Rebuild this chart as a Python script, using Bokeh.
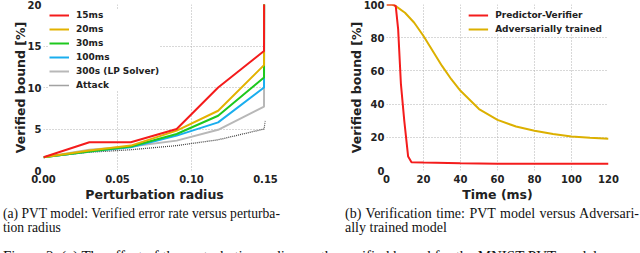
from bokeh.plotting import figure
from bokeh.layouts import column, row
from bokeh.models import FixedTicker, Legend, LegendItem, Div, GlobalInlineStyleSheet
from bokeh.embed import file_html
from bokeh.resources import INLINE

# ---- data (panel a) ----
radius = [0.0, 0.031, 0.059, 0.09, 0.118, 0.149, 0.15]
v15 = [1.6, 3.4, 3.4, 5.0, 10.0, 14.4, 100]
v20 = [1.6, 2.4, 3.0, 4.8, 7.2, 12.7, 100]
v30 = [1.6, 2.3, 2.9, 4.4, 6.6, 11.2, 100]
v100 = [1.6, 2.3, 2.8, 4.2, 5.8, 10.0, 100]
v300 = [1.6, 2.5, 2.9, 3.6, 4.9, 7.7, 100]
attack = [1.6, 2.2, 2.5, 3.0, 3.7, 5.0, 6.0]
a_xticks = [0.0, 0.05, 0.10, 0.15]
a_xlabels = ["0.00", "0.05", "0.10", "0.15"]
a_yticks = [0, 5, 10, 15, 20]

# ---- data (panel b) ----
time_pv = [0, 4, 5, 6.3, 7.8, 9.6, 11.7, 13.5, 20, 40, 60, 80, 100, 120]
pv = [100, 100, 99, 85, 52, 30, 8.4, 5.0, 4.8, 4.3, 4.1, 4.0, 4.0, 4.0]
time_adv = [0, 3, 5, 10, 15, 20, 25, 30, 35, 40, 50, 60, 70, 80, 90, 100, 110, 120]
adv = [100, 100, 99, 95, 89, 81, 72, 63, 55, 48, 37, 30.5, 26.5, 24, 22, 20.5, 19.8, 19.2]
b_xticks = [0, 20, 40, 60, 80, 100, 120]
b_yticks = [0, 20, 40, 60, 80, 100]

FONT = "DejaVu Sans"


def style(p):
    p.outline_line_color = None
    for ax in (p.xaxis, p.yaxis):
        ax.axis_line_color = None
        ax.major_tick_line_color = None
        ax.minor_tick_line_color = None
        ax.major_tick_out = 0
        ax.major_tick_in = 0
        ax.major_label_text_font = FONT
        ax.major_label_text_font_style = "bold"
        ax.major_label_text_font_size = "10px"
        ax.major_label_text_color = "#222222"
        ax.axis_label_text_font = FONT
        ax.axis_label_text_font_style = "bold"
        ax.axis_label_text_font_size = "12.5px"
        ax.axis_label_text_color = "#222222"
    p.xaxis.major_label_standoff = 4
    p.xaxis.axis_label_standoff = 1
    p.yaxis.major_label_standoff = 2
    p.yaxis.axis_label_standoff = -3
    for g in (p.xgrid, p.ygrid):
        g.grid_line_color = "#b0b0b0"
        g.grid_line_dash = "1 2"
        g.grid_line_width = 1


def style_legend(lg):
    lg.border_line_color = None
    lg.background_fill_color = "white"
    lg.background_fill_alpha = 1.0
    lg.label_text_font = FONT
    lg.label_text_font_style = "bold"
    lg.label_text_font_size = "9px"
    lg.label_text_color = "#222222"
    lg.glyph_width = 20
    lg.glyph_height = 10
    lg.label_height = 10
    lg.spacing = 4
    lg.padding = 2
    lg.label_standoff = 7
    lg.margin = 6


# ---- panel a ----
p1 = figure(frame_width=222, frame_height=166, x_range=(0, 0.15), y_range=(0, 20),
            min_border_left=43, min_border_right=35, min_border_top=4, min_border_bottom=30,
            output_backend="svg", toolbar_location=None)
style(p1)
p1.xaxis.ticker = FixedTicker(ticks=a_xticks)
p1.xaxis.major_label_overrides = {t: l for t, l in zip(a_xticks, a_xlabels)}
p1.yaxis.ticker = FixedTicker(ticks=a_yticks)
p1.xaxis.axis_label = "Perturbation radius"
p1.yaxis.axis_label = "Verified bound [%]"

r_att = p1.line(radius, attack, line_color="#444444", line_width=1.3, line_dash="1 1")
r300 = p1.line(radius, v300, line_color="#b8b8b8", line_width=2)
r100 = p1.line(radius, v100, line_color="#1aaeee", line_width=2)
r30 = p1.line(radius, v30, line_color="#1ec81e", line_width=2)
r20 = p1.line(radius, v20, line_color="#e3b200", line_width=2)
r15 = p1.line(radius, v15, line_color="#f41c1c", line_width=2)

leg1 = Legend(items=[LegendItem(label="15ms", renderers=[r15]),
                     LegendItem(label="20ms", renderers=[r20]),
                     LegendItem(label="30ms", renderers=[r30]),
                     LegendItem(label="100ms", renderers=[r100]),
                     LegendItem(label="300s (LP Solver)", renderers=[r300]),
                     LegendItem(label="Attack", renderers=[r_att])],
              location="top_left")
style_legend(leg1)
p1.add_layout(leg1)

# ---- panel b ----
p2 = figure(frame_width=222, frame_height=166, x_range=(0, 120), y_range=(0, 100),
            min_border_left=86, min_border_right=32, min_border_top=4, min_border_bottom=30,
            output_backend="svg", toolbar_location=None)
style(p2)
p2.xaxis.ticker = FixedTicker(ticks=b_xticks)
p2.yaxis.ticker = FixedTicker(ticks=b_yticks)
p2.xaxis.axis_label = "Time (ms)"
p2.yaxis.axis_label = "Verified bound [%]"

ra = p2.line(time_adv, adv, line_color="#dcb000", line_width=2)
rp = p2.line(time_pv, pv, line_color="#f41c1c", line_width=2)
leg2 = Legend(items=[LegendItem(label="Predictor-Verifier", renderers=[rp]),
                     LegendItem(label="Adversarially trained", renderers=[ra])],
              location="top_right")
style_legend(leg2)
p2.add_layout(leg2)

cap_style = {"font-family": "Liberation Serif", "font-size": "13.6px",
             "line-height": "14px", "color": "#111111", "white-space": "nowrap"}
div_a = Div(text="(a) PVT model: Verified error rate versus perturba-<br>tion radius",
            width=340, height=42, margin=(0, 0, 0, 0),
            styles=dict(cap_style, **{"padding-left": "3px", "padding-top": "3px"}))
div_b = Div(text='<span style="word-spacing:1px">(b) Verification time: PVT model versus Adversari-</span><br>ally trained model',
            width=300, height=42, margin=(0, 0, 0, 0),
            styles=dict(cap_style, **{"padding-left": "5px", "padding-top": "3px",
                                      "font-size": "14px"}))
div_c = Div(text="Figure 2: (a) The effect of the perturbation radius on the verified bound for the MNIST PVT model",
            width=640, height=9, margin=(0, 0, 0, 0),
            styles=dict(cap_style, **{"padding-left": "3px", "overflow": "hidden",
                                      "font-size": "15px", "line-height": "16px",
                                      "padding-top": "2px"}))

layout = column(row(p1, p2, spacing=0), row(div_a, div_b, spacing=0), div_c, spacing=0)
layout.stylesheets = [GlobalInlineStyleSheet(css="body{margin:0 !important;}")]

open("out.html", "w").write(file_html(layout, INLINE))
